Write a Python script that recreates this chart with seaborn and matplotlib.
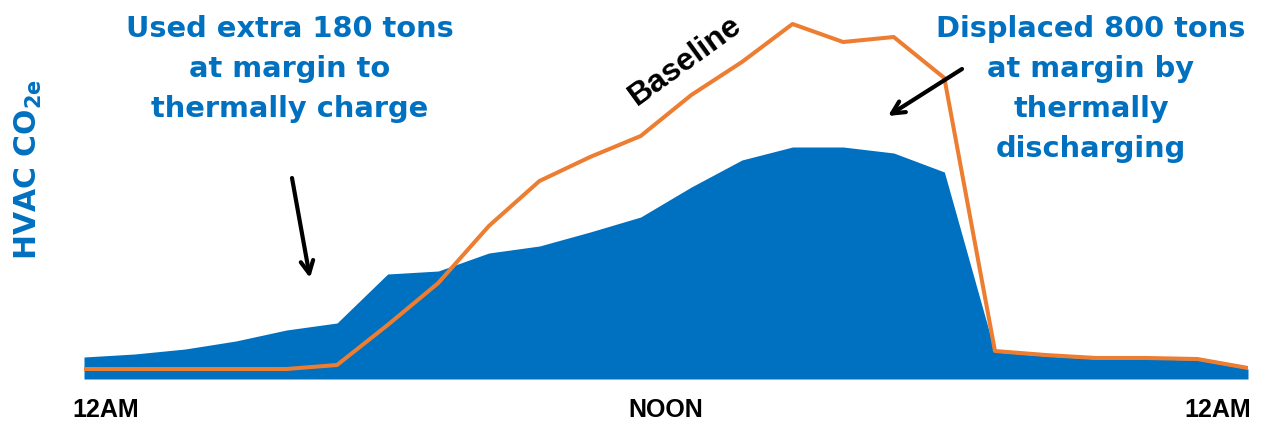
import matplotlib
matplotlib.use("Agg")
import matplotlib.pyplot as plt
import seaborn as sns
import numpy as np
import pandas as pd

# Data (hourly, arbitrary CO2e units)
hours = list(range(24))
shifted = [22, 25, 30, 38, 49, 56, 105, 108, 126, 133, 147, 162, 192, 219, 232, 232,
           226, 207, 27, 23, 20, 20, 19, 10]
baseline = [10, 10, 10, 10, 10, 14, 54, 96, 153, 198, 222, 243, 284, 317, 355, 337,
            342, 301, 28, 24, 21, 21, 20, 11]
tick_pos = [0.43, 11.5, 22.4]
tick_labels = ["12AM", "NOON", "12AM"]

BLUE = "#0070C0"
ORANGE = "#ED7D31"

sns.set_style("white")
plt.rcParams['font.family'] = ['Liberation Sans', 'DejaVu Sans']
plt.rcParams['mathtext.fontset'] = 'custom'
plt.rcParams['mathtext.bf'] = 'DejaVu Sans:bold'
plt.rcParams['mathtext.rm'] = 'DejaVu Sans:bold'

df = pd.DataFrame({"hour": hours, "shifted": shifted, "baseline": baseline})

W, H = 1263, 423
fig = plt.figure(figsize=(W / 100, H / 100), dpi=100)
ax = fig.add_axes([84 / W, 44 / H, 1164 / W, 379 / H])

ax.fill_between(df["hour"], 0, df["shifted"], color=BLUE, linewidth=0)
sns.lineplot(data=df, x="hour", y="baseline", color=ORANGE, linewidth=2.9, ax=ax)

ax.set_xlim(0, 23)
ax.set_ylim(0, 379)
ax.set_yticks([])
ax.set_xticks(tick_pos)
ax.set_xticklabels(tick_labels, fontsize=18, fontweight='bold', color='black')
ax.tick_params(axis='x', length=0, pad=14, labelcolor='black')
ax.set_xlabel("")
ax.set_ylabel("")
for s in ax.spines.values():
    s.set_visible(False)

def fx(px):
    return px / W

def fy(py):
    return 1 - py / H

wide = ['DejaVu Sans']

fig.text(fx(28), fy(170), r"HVAC CO$_\mathbf{2e}$", rotation=90, ha='center', va='center',
         color=BLUE, fontsize=21.5, fontweight='bold', family=wide)

left_lines = ["Used extra 180 tons", "at margin to", "thermally charge"]
for i, t in enumerate(left_lines):
    fig.text(fx(290), fy(37 + 40 * i), t, ha='center', va='baseline', color=BLUE,
             fontsize=20.8, fontweight='bold', family=wide)

right_lines = ["Displaced 800 tons", "at margin by", "thermally", "discharging"]
for i, t in enumerate(right_lines):
    fig.text(fx(1091), fy(37 + 40 * i), t, ha='center', va='baseline', color=BLUE,
             fontsize=20.8, fontweight='bold', family=wide)

fig.text(fx(685), fy(61), "Baseline", rotation=36, ha='center', va='center',
         color='black', fontsize=23, fontweight='bold', rotation_mode='anchor')

arrow_kw = dict(arrowstyle='->,head_length=0.9,head_width=0.45', color='black', lw=3,
                shrinkA=0, shrinkB=0)
ax.annotate("", xy=(fx(310), fy(278)), xytext=(fx(292), fy(178)),
            xycoords='figure fraction', textcoords='figure fraction', arrowprops=arrow_kw)
ax.annotate("", xy=(fx(888), fy(116)), xytext=(fx(962), fy(69)),
            xycoords='figure fraction', textcoords='figure fraction', arrowprops=arrow_kw)

fig.savefig("out.png", dpi=100)
